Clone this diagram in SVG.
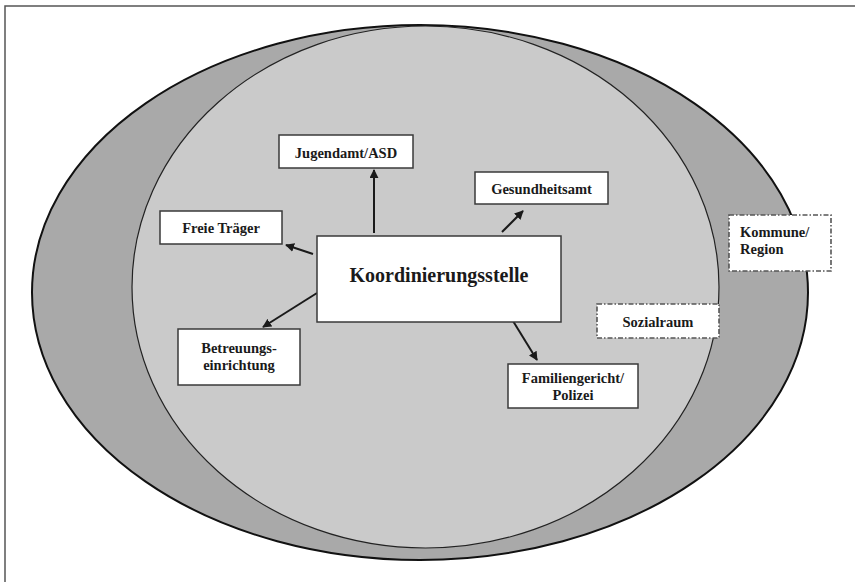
<svg xmlns="http://www.w3.org/2000/svg" width="855" height="582" viewBox="0 0 855 582">
  <defs>
    <marker id="arrow" viewBox="0 0 10 10" refX="9" refY="5" markerWidth="4.5" markerHeight="4.5" orient="auto" markerUnits="strokeWidth">
      <path d="M0,0 L10,5 L0,10 z" fill="#1a1a1a"/>
    </marker>
  </defs>
  <style>
    .box { fill: #ffffff; stroke: #3a3a3a; stroke-width: 1.5; }
    .dashbox { fill: #ffffff; stroke: #555555; stroke-width: 1.6; stroke-dasharray: 5 2 1.5 2; }
    .lbl { font-family: "Liberation Serif", "Times New Roman", serif; font-weight: bold; font-size: 14.5px; fill: #1a1a1a; }
    .big { font-size: 20px; }
    .edge { stroke: #1a1a1a; stroke-width: 2; fill: none; marker-end: url(#arrow); }
  </style>

  <rect width="855" height="582" fill="#ffffff"/>
  <!-- frame -->
  <path d="M5,582 V6 H855" fill="none" stroke="#555555" stroke-width="1.5"/>

  <!-- region ellipses -->
  <g id="kommune-region-area">
    <ellipse cx="420" cy="292.5" rx="388" ry="267.5" fill="#a9a9a9" stroke="#111111" stroke-width="2"/>
  </g>
  <g id="sozialraum-area">
    <ellipse cx="425.5" cy="287" rx="293.5" ry="261" fill="#cacaca" stroke="#222222" stroke-width="1.2"/>
  </g>

  <!-- connectors -->
  <g id="connectors">
    <line class="edge" x1="374" y1="233" x2="374" y2="170"/>
    <line class="edge" x1="313" y1="254" x2="286" y2="245"/>
    <line class="edge" x1="502" y1="232" x2="523" y2="211"/>
    <line class="edge" x1="317" y1="293" x2="263" y2="327"/>
    <line class="edge" x1="513" y1="321" x2="537" y2="360"/>
  </g>

  <g id="koordinierungsstelle">
    <rect class="box" x="317" y="236" width="244" height="86"/>
    <text class="lbl big" x="439" y="282" text-anchor="middle">Koordinierungsstelle</text>
  </g>

  <g id="jugendamt">
    <rect class="box" x="279" y="135" width="134" height="33"/>
    <text class="lbl" x="346" y="158" text-anchor="middle">Jugendamt/ASD</text>
  </g>

  <g id="freie-traeger">
    <rect class="box" x="160" y="211" width="122" height="33"/>
    <text class="lbl" x="221" y="233" text-anchor="middle">Freie Träger</text>
  </g>

  <g id="gesundheitsamt">
    <rect class="box" x="475" y="172" width="133" height="32"/>
    <text class="lbl" x="541.5" y="194" text-anchor="middle">Gesundheitsamt</text>
  </g>

  <g id="betreuungseinrichtung">
    <rect class="box" x="178" y="329" width="122" height="56"/>
    <text class="lbl" x="239" y="353" text-anchor="middle">Betreuungs-</text>
    <text class="lbl" x="239" y="370" text-anchor="middle">einrichtung</text>
  </g>

  <g id="familiengericht">
    <rect class="box" x="508" y="364" width="130" height="44"/>
    <text class="lbl" x="573" y="383" text-anchor="middle">Familiengericht/</text>
    <text class="lbl" x="573" y="400" text-anchor="middle">Polizei</text>
  </g>

  <g id="sozialraum">
    <rect class="dashbox" x="597" y="304" width="122" height="34"/>
    <text class="lbl" x="658" y="327" text-anchor="middle">Sozialraum</text>
  </g>

  <g id="kommune">
    <rect class="dashbox" x="729" y="215" width="102" height="56"/>
    <text class="lbl" x="740" y="237">Kommune/</text>
    <text class="lbl" x="740" y="254">Region</text>
  </g>
</svg>
